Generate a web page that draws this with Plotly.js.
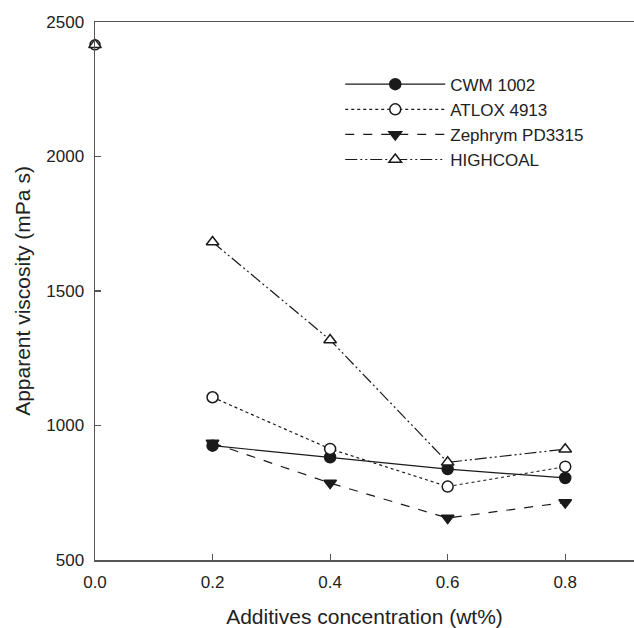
<!DOCTYPE html>
<html>
<head>
<meta charset="utf-8">
<script src="https://cdn.plot.ly/plotly-3.0.1.min.js"></script>
<style>html,body{margin:0;padding:0;background:#fff;}#chart{width:634px;height:628px;}</style>
</head>
<body>
<div id="chart"></div>
<script>
// Data
const concentrations = [0.2, 0.4, 0.6, 0.8];
const noAdditiveX = [0.0];
const noAdditiveViscosity = [2415];
const cwm1002 = [925, 882, 838, 805];
const atlox4913 = [1105, 913, 773, 847];
const zephrymPD3315 = [935, 786, 656, 714];
const highcoal = [1682, 1318, 863, 912];
const seriesNames = ["CWM 1002", "ATLOX 4913", "Zephrym PD3315", "HIGHCOAL"];
const xTicks = [0.0, 0.2, 0.4, 0.6, 0.8];
const xTickLabels = ["0.0", "0.2", "0.4", "0.6", "0.8"];
const yTicks = [500, 1000, 1500, 2000, 2500];

const ink = "#1a1a1a";
function series(name, y, dash, symbol, fill) {
  return {
    x: concentrations, y: y, name: name, type: "scatter", mode: "lines+markers",
    line: {color: ink, width: 1.2, dash: dash},
    marker: {symbol: symbol, size: 11, color: fill, line: {color: ink, width: 1.5}}
  };
}
const traces = [
  series(seriesNames[0], cwm1002, "solid", "circle", ink),
  series(seriesNames[1], atlox4913, "dot", "circle", "#fff"),
  series(seriesNames[2], zephrymPD3315, "dash", "triangle-down", ink),
  series(seriesNames[3], highcoal, "12px,3px,2px,3px,2px,3px", "triangle-up", "#fff"),
  {x: noAdditiveX, y: noAdditiveViscosity, type: "scatter", mode: "markers", showlegend: false,
   marker: {symbol: "circle", size: 10, color: "#fff", line: {color: ink, width: 1.5}}, cliponaxis: false},
  {x: noAdditiveX, y: noAdditiveViscosity, type: "scatter", mode: "markers", showlegend: false,
   marker: {symbol: "triangle-up", size: 11, color: "#fff", line: {color: ink, width: 1.5}}, cliponaxis: false}
];

const layout = {
  width: 634, height: 628,
  margin: {l: 95, r: 0, t: 22, b: 68},
  paper_bgcolor: "#fff", plot_bgcolor: "#fff",
  font: {family: "Liberation Sans, Arial, sans-serif", color: "#222", size: 17},
  showlegend: true,
  legend: {x: 0.455, y: 0.917, xanchor: "left", yanchor: "top", bgcolor: "rgba(0,0,0,0)",
           font: {size: 17, color: "#222"}, tracegroupgap: 0, itemwidth: 100},
  xaxis: {
    range: [0, 0.917], tickvals: xTicks, ticktext: xTickLabels,
    ticks: "inside", ticklen: 6, tickwidth: 1.2, tickcolor: "#555",
    showline: true, linecolor: "#555", linewidth: 1.5, mirror: true,
    showgrid: false, zeroline: false,
    tickfont: {size: 17}, ticklabelstandoff: 6,
    automargin: false,
    title: {text: "Additives concentration (wt%)", font: {size: 21}, standoff: 20}
  },
  yaxis: {
    range: [500, 2500], tickvals: yTicks,
    ticks: "inside", ticklen: 6, tickwidth: 1.2, tickcolor: "#555",
    showline: true, linecolor: "#555", linewidth: 1.5,
    showgrid: false, zeroline: false,
    tickfont: {size: 17}, ticklabelstandoff: 6,
    title: {text: "Apparent viscosity (mPa s)", font: {size: 21}, standoff: 10}
  }
};
Plotly.newPlot("chart", traces, layout, {displayModeBar: false, staticPlot: true});
</script>
</body>
</html>
